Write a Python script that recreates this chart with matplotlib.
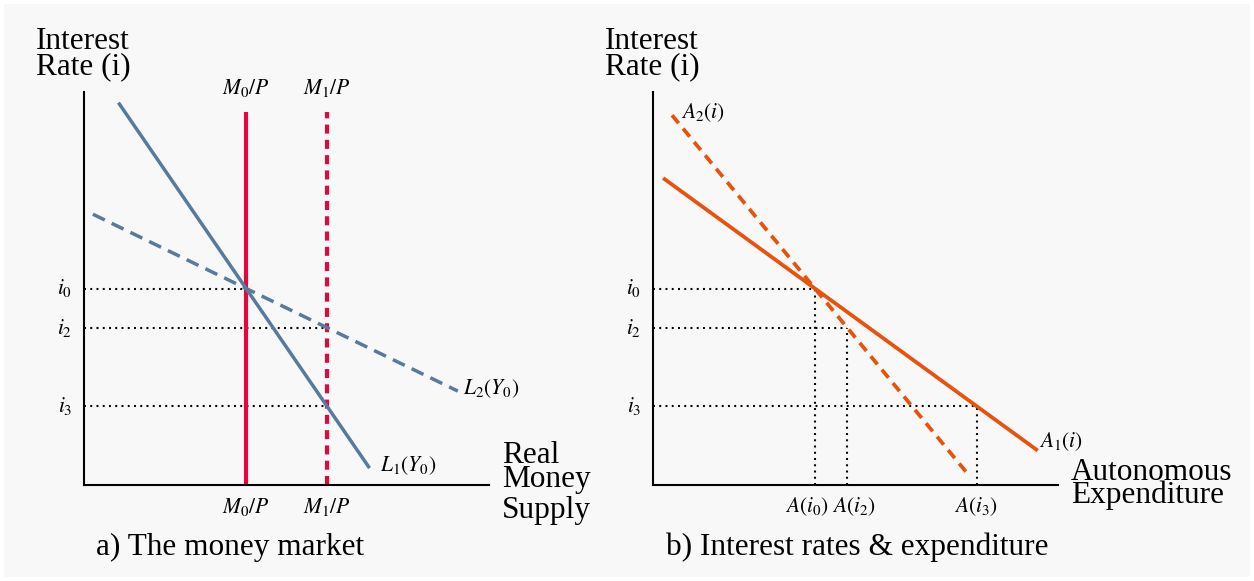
import matplotlib
matplotlib.use("Agg")
import matplotlib.pyplot as plt
from matplotlib.patches import Rectangle

# ---------------- data ----------------
# interest rate levels
rate_labels = ["$i_0$", "$i_2$", "$i_3$"]
rate_values = [5.0, 4.0, 2.0]

# panel a: money market
money_labels = ["$M_0/P$", "$M_1/P$"]
money_values = [4.0, 6.0]
money_top = 9.5
L1_x = [0.85, 7.05]
L1_y = [9.73, 0.43]
L2_x = [0.22, 9.23]
L2_y = [6.89, 2.39]
L_labels = ["$L_1(Y_0)$", "$L_2(Y_0)$"]
a_dot_ends = [4.0, 6.0, 6.0]   # money supply reached at i0, i2, i3

# panel b: autonomous expenditure
A1_x = [0.25, 9.5]
A1_y = [7.81, 0.875]
A2_x = [0.47, 7.75]
A2_y = [9.41, 0.31]
A_line_labels = ["$A_1(i)$", "$A_2(i)$"]
A_tick_labels = ["$A(i_0)$", "$A(i_2)$", "$A(i_3)$"]
A_tick_values = [4.0, 4.8, 8.0]

# ---------------- style ----------------
W, H = 1254, 581
plt.rcParams["lines.scale_dashes"] = False
plt.rcParams["mathtext.fontset"] = "stix"
plt.rcParams["font.family"] = ["Liberation Serif", "DejaVu Serif"]

BLUE = "#587a9c"
RED = "#e4073c"
ORANGE = "#e8520c"
BG = "#f8f8f8"
BIG = 22.5
SMALL = 15.5
DOT = (0, (1.4, 3.1))

fig = plt.figure(figsize=(W / 100, H / 100), dpi=100, facecolor="white")
fig.patches.append(Rectangle((4 / W, 4 / H), 1 - 8 / W, 1 - 8 / H,
                             transform=fig.transFigure, facecolor=BG,
                             edgecolor="none", zorder=-10))


def fx(px):
    return px / W


def fy(py):
    return 1 - py / H


def make_axes(left_px):
    ax = fig.add_axes([fx(left_px), fy(485), 405 / W, 393 / H])
    ax.set_xlim(0, 10)
    ax.set_ylim(0, 10)
    ax.patch.set_alpha(0)
    for s in ["top", "right"]:
        ax.spines[s].set_visible(False)
    for s in ["left", "bottom"]:
        ax.spines[s].set_linewidth(1.5)
        ax.spines[s].set_color("black")
    ax.set_xticks([])
    ax.set_yticks([])
    return ax


# ---------------- panel a ----------------
axa = make_axes(84)
for r, xe in zip(rate_values, a_dot_ends):
    axa.plot([0, xe], [r, r], color="black", lw=1.5, linestyle=DOT, zorder=1)
for lab, r in zip(rate_labels, rate_values):
    axa.annotate(lab, (0, r), xytext=(-8.5, 0), textcoords="offset points",
                 ha="right", va="center", fontsize=SMALL, annotation_clip=False)

axa.plot([money_values[0]] * 2, [0, money_top], color=RED, lw=3.0,
         solid_capstyle="butt", zorder=2)
axa.plot([money_values[1]] * 2, [0, money_top], color=RED, lw=3.0,
         dashes=(6.5, 4.5), dash_capstyle="butt", zorder=2)
for lab, m in zip(money_labels, money_values):
    axa.text(m, 10.1, lab, ha="center", va="center", fontsize=SMALL, clip_on=False)
    axa.text(m, -0.55, lab, ha="center", va="center", fontsize=SMALL, clip_on=False)

axa.plot(L1_x, L1_y, color=BLUE, lw=2.5, solid_capstyle="butt", zorder=3)
axa.plot(L2_x, L2_y, color=BLUE, lw=2.5, dashes=(9.5, 5.5),
         dash_capstyle="butt", zorder=3)
axa.annotate(L_labels[0], (L1_x[1], L1_y[1]), xytext=(7.5, 2),
             textcoords="offset points", ha="left", va="center",
             fontsize=SMALL, annotation_clip=False)
axa.annotate(L_labels[1], (L2_x[1], L2_y[1]), xytext=(3.5, 2),
             textcoords="offset points", ha="left", va="center",
             fontsize=SMALL, annotation_clip=False)

# ---------------- panel b ----------------
axb = make_axes(653)
for r, xe in zip(rate_values, A_tick_values):
    axb.plot([0, xe], [r, r], color="black", lw=1.5, linestyle=DOT, zorder=1)
    axb.plot([xe, xe], [0, r], color="black", lw=1.5, linestyle=DOT, zorder=1)
for lab, r in zip(rate_labels, rate_values):
    axb.annotate(lab, (0, r), xytext=(-8.5, 0), textcoords="offset points",
                 ha="right", va="center", fontsize=SMALL, annotation_clip=False)

axb.plot(A1_x, A1_y, color=ORANGE, lw=2.7, solid_capstyle="butt", zorder=3)
axb.plot(A2_x, A2_y, color=ORANGE, lw=2.7, dashes=(7.5, 5.0),
         dash_capstyle="butt", zorder=3)
axb.annotate(A_line_labels[0], (A1_x[1], A1_y[1]), xytext=(1, 6.5),
             textcoords="offset points", ha="left", va="center",
             fontsize=SMALL, annotation_clip=False)
axb.annotate(A_line_labels[1], (A2_x[0], A2_y[0]), xytext=(6.5, 1.5),
             textcoords="offset points", ha="left", va="center",
             fontsize=SMALL, annotation_clip=False)

tick_offsets = [-6, 4.5, -1]
for lab, v, off in zip(A_tick_labels, A_tick_values, tick_offsets):
    axb.annotate(lab, (v, 0), xytext=(off, -15.5), textcoords="offset points",
                 ha="center", va="center", fontsize=SMALL, annotation_clip=False)

# ---------------- big text ----------------
for left in (36, 605):
    fig.text(fx(left), fy(49), "Interest", fontsize=BIG, ha="left", va="baseline")
    fig.text(fx(left), fy(74), "Rate (i)", fontsize=BIG, ha="left", va="baseline")

for word, base in zip(["Real", "Money", "Supply"], [463, 487, 518]):
    fig.text(fx(502), fy(base), word, fontsize=BIG, ha="left", va="baseline")
for word, base in zip(["Autonomous", "Expenditure"], [480, 503]):
    fig.text(fx(1071), fy(base), word, fontsize=BIG, ha="left", va="baseline")

fig.text(fx(96), fy(555), "a) The money market", fontsize=BIG, ha="left", va="baseline")
fig.text(fx(666), fy(555), "b) Interest rates & expenditure", fontsize=BIG,
         ha="left", va="baseline")

fig.savefig("out.png", dpi=100, facecolor=fig.get_facecolor())
